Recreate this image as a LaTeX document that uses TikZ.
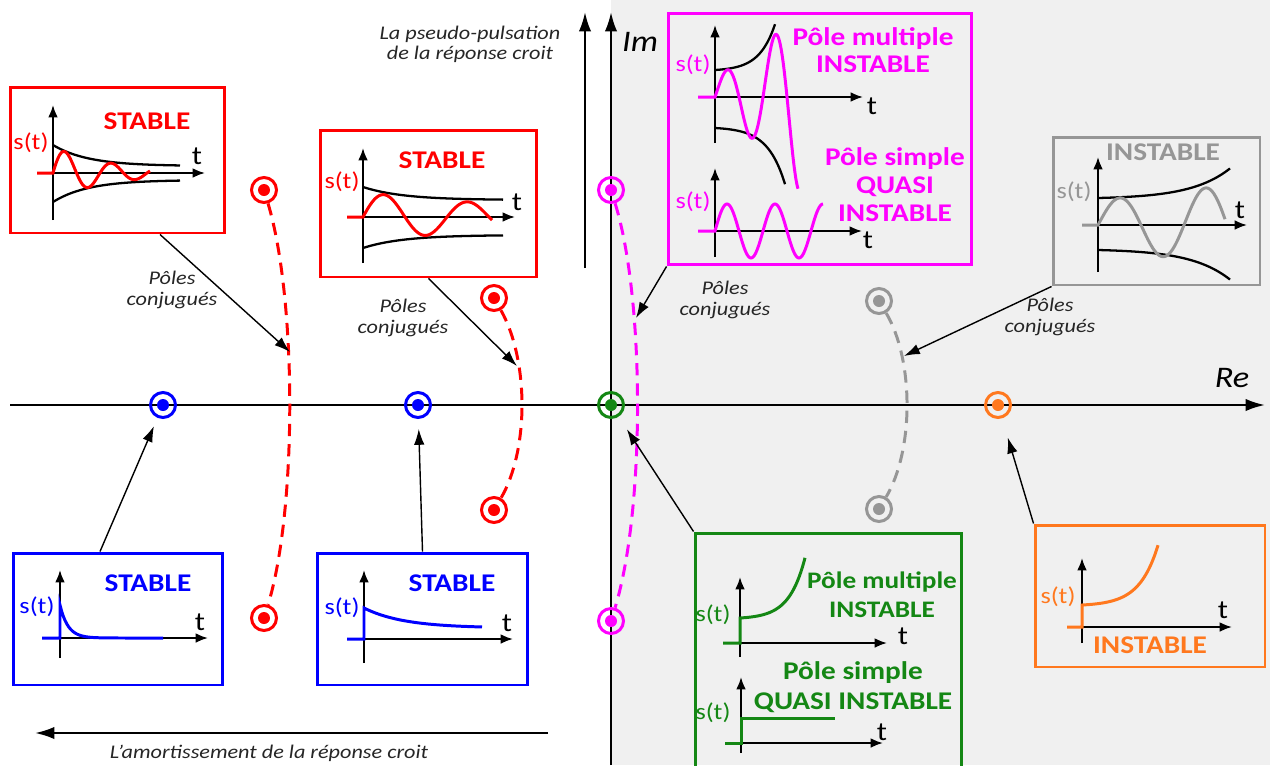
\documentclass[tikz,border=0pt]{standalone}
\usepackage{fontspec}
\setmainfont{Carlito}
\usetikzlibrary{arrows.meta,calc}
\definecolor{cred}{RGB}{255,0,0}
\definecolor{cblue}{RGB}{0,0,255}
\definecolor{cmag}{RGB}{255,0,255}
\definecolor{cgreen}{RGB}{20,135,20}
\definecolor{corange}{RGB}{255,120,30}
\definecolor{cgray}{RGB}{150,150,150}
\definecolor{bggray}{RGB}{240,240,240}
\newcommand{\sx}[1]{\scalebox{1.15}[1]{#1}}
\begin{document}
\begin{tikzpicture}[x=0.02cm, y=-0.02cm,
  box/.style={draw=#1, line width=1.7pt, inner sep=0pt},
  pole/.style={circle, draw=#1, line width=1.7pt, minimum size=0.5cm, inner sep=0pt,
    path picture={\fill[#1] (path picture bounding box.center) circle (0.12cm);}},
  ax/.style={line width=1.1pt, -{Latex[length=7pt,width=5.5pt]}},
  mainax/.style={line width=1.3pt, -{Latex[length=11pt,width=7pt]}},
  sig/.style={line width=1.7pt, color=#1},
  env/.style={line width=1.3pt},
  ttl/.style={font=\fontsize{14.5}{15.5}\selectfont\bfseries, text=#1, align=center, inner sep=0pt},
  st/.style={font=\fontsize{13}{14}\selectfont, text=#1, inner sep=0pt},
  tl/.style={font=\fontsize{15}{16}\selectfont, inner sep=0pt},
  lab/.style={font=\fontsize{11}{11.5}\selectfont\itshape, align=center, inner sep=0pt, text=black!85},
  conn/.style={line width=0.8pt, -{Latex[length=9pt,width=6pt]}},
  dsh/.style={line width=1.7pt, dash pattern=on 7pt off 4.5pt, color=#1}]
\clip (0,0) rectangle (1270,765);
\fill[white] (0,0) rectangle (1270,765);
\fill[bggray] (611,0) rectangle (1270,765);

% main axes
\coordinate (reS) at (10,405); \coordinate (reE) at (1265,405);
\coordinate (imS) at (611,765); \coordinate (imE) at (611,12);
\coordinate (psS) at (585,268); \coordinate (psE) at (585,12);
\coordinate (amS) at (548,733); \coordinate (amE) at (35,733);
\draw[mainax] (reS) -- (reE);
\draw[mainax] (imS) -- (imE);
\draw[mainax] (psS) -- (psE);
\draw[mainax] (amS) -- (amE);
\node[font=\fontsize{17}{18}\selectfont\itshape, inner sep=0pt] (re) at (1232,378) {\sx{Re}};
\node[font=\fontsize{17}{18}\selectfont\itshape, inner sep=0pt] (im) at (640,42) {\sx{Im}};
\node[lab] (pslab) at (470,44) {\sx{La pseudo-pulsation}\\\sx{de la réponse croit}};
\node[lab] (amlab) at (269,753) {\sx{L’amortissement de la réponse croit}};

% boxes
\node[box=cred, minimum width=4.30cm, minimum height=2.92cm] (rb1) at (117.5,160) {};
\node[box=cred, minimum width=4.34cm, minimum height=2.94cm] (rb2) at (428.5,203.5) {};
\node[box=cmag, minimum width=6.08cm, minimum height=5.04cm] (mb) at (820,139) {};
\node[box=cgray, minimum width=4.14cm, minimum height=2.96cm] (gb) at (1156.5,211) {};
\node[box=cblue, minimum width=4.20cm, minimum height=2.64cm] (bb1) at (118,619) {};
\node[box=cblue, minimum width=4.22cm, minimum height=2.64cm] (bb2) at (422.5,619) {};
\node[box=cgreen, minimum width=5.34cm, minimum height=4.84cm] (gnb) at (828.5,654) {};
\node[box=corange, minimum width=4.60cm, minimum height=2.84cm] (ob) at (1150,596) {};

% red box 1
\draw[ax] (53,220) -- (53,105);
\draw[ax] (53,173) -- (205,173);
\draw[env] plot[domain=0:127, samples=40, smooth] ({53+\x}, {166-21*exp(-\x/35)});
\draw[env] plot[domain=0:127, samples=40, smooth] ({53+\x}, {180+22*exp(-\x/35)});
\draw[sig=cred] (37,173) -- (53,173) -- plot[domain=0:97, samples=80, smooth] ({53+\x}, {173-26*exp(-\x/60)*sin((\x/47)*360)});
\node[ttl=cred] (rb1t) at (147,121) {\sx{STABLE}};
\node[st=cred] (rb1s) at (31,143) {\sx{s(t)}};
\node[tl] (rb1x) at (197,156) {\sx{t}};

% red box 2
\draw[ax] (363,263) -- (363,148);
\draw[ax] (363,217) -- (515,217);
\draw[env] plot[domain=0:140, samples=40, smooth] ({363+\x}, {200-13*exp(-\x/40)});
\draw[env] plot[domain=0:140, samples=40, smooth] ({363+\x}, {235+13*exp(-\x/40)});
\draw[sig=cred] (347,217) -- (363,217) -- plot[domain=0:129, samples=90, smooth] ({363+\x}, {217-24.6*exp(-\x/216)*sin((\x/84)*360)});
\node[ttl=cred] (rb2t) at (442,160) {\sx{STABLE}};
\node[st=cred] (rb2s) at (342,182) {\sx{s(t)}};
\node[tl] (rb2x) at (517,202) {\sx{t}};

% magenta box
\draw[ax] (715,143) -- (715,25);
\draw[ax] (715,97) -- (863,97);
\draw[env] plot[domain=0:60, samples=40, smooth] ({715+\x}, {70-(exp(\x/15.6)-1)});
\draw[env] plot[domain=0:70, samples=40, smooth] ({715+\x}, {127+exp(\x/17.3)});
\draw[sig=cmag] (698,97) -- (715,97) -- plot[domain=0:83, samples=100, smooth] ({715+\x}, {97-21.9*exp(\x/57.6)*sin((\x/48)*360)});
\node[st=cmag] (mbs1) at (693,65) {\sx{s(t)}};
\node[tl] (mbx1) at (872,106) {\sx{t}};
\node[ttl=cmag] (mbt1) at (873,50) {\sx{Pôle multiple}\\\sx{INSTABLE}};
\draw[ax] (715,257) -- (715,168);
\draw[ax] (715,231) -- (862,231);
\draw[sig=cmag] (698,231) -- (715,231) -- plot[domain=0:108, samples=100, smooth] ({715+\x}, {231-27*sin((\x/48)*360)});
\node[st=cmag] (mbs2) at (693,202) {\sx{s(t)}};
\node[tl] (mbx2) at (868,240) {\sx{t}};
\node[ttl=cmag, font=\fontsize{14.5}{16}\selectfont\bfseries] (mbt2) at (895,185) {\sx{Pôle simple}\\\sx{QUASI}\\\sx{INSTABLE}};

% gray box
\draw[ax] (1098,272) -- (1098,157);
\draw[ax] (1098,225) -- (1247,225);
\draw[env] plot[domain=0:132, samples=40, smooth] ({1098+\x}, {199-exp(\x/38.6)});
\draw[env] plot[domain=0:132, samples=40, smooth] ({1098+\x}, {249+exp(\x/38.6)});
\draw[sig=cgray] (1082,225) -- (1098,225) -- plot[domain=0:127, samples=90, smooth] ({1098+\x}, {225-25*exp(\x/273)*sin((\x/86)*360)});
\node[ttl=cgray] (gbt) at (1163,152) {\sx{INSTABLE}};
\node[st=cgray] (gbs) at (1074,192) {\sx{s(t)}};
\node[tl] (gbx) at (1240,210) {\sx{t}};

% blue box 1
\draw[ax] (60,658) -- (60,570);
\draw[ax] (60,638) -- (208,638);
\draw[sig=cblue] (42,638) -- (60,638) -- (60,605) -- plot[domain=0:103, samples=60, smooth] ({60+\x}, {638-33*exp(-\x/8)});
\node[ttl=cblue] (bb1t) at (148,583) {\sx{STABLE}};
\node[st=cblue] (bb1s) at (37,607) {\sx{s(t)}};
\node[tl] (bb1x) at (200,622) {\sx{t}};

% blue box 2
\draw[ax] (364,663) -- (364,570);
\draw[ax] (364,639) -- (513,639);
\draw[sig=cblue] (347,639) -- (364,639) -- (364,608) -- plot[domain=0:118, samples=60, smooth] ({364+\x}, {628-20*exp(-\x/40)});
\node[ttl=cblue] (bb2t) at (452,583) {\sx{STABLE}};
\node[st=cblue] (bb2s) at (342,608) {\sx{s(t)}};
\node[tl] (bb2x) at (507,623) {\sx{t}};

% green box
\draw[ax] (740,657) -- (740,577);
\draw[ax] (740,643) -- (887,643);
\draw[sig=cgreen] (723,643) -- (740,643) -- (740,618) -- plot[domain=0:65, samples=60, smooth] ({740+\x}, {619-exp(\x/15.8)});
\node[st=cgreen] (gns1) at (713,615) {\sx{s(t)}};
\node[tl] (gnx1) at (903,636) {\sx{t}};
\node[ttl=cgreen, font=\fontsize{13.5}{16.4}\selectfont\bfseries] (gnt1) at (882,595) {\sx{Pôle multiple}\\\sx{INSTABLE}};
\draw[ax] (741,753) -- (741,677);
\draw[ax] (741,743) -- (883,743);
\draw[sig=cgreen] (725,743) -- (741,743) -- (741,718) -- (835,718);
\node[st=cgreen] (gns2) at (713,713) {\sx{s(t)}};
\node[tl] (gnx2) at (882,732) {\sx{t}};
\node[ttl=cgreen, font=\fontsize{14.5}{17}\selectfont\bfseries] (gnt2) at (853,687) {\sx{Pôle simple}\\\sx{QUASI INSTABLE}};

% orange box
\draw[ax] (1082,643) -- (1082,558);
\draw[ax] (1082,627) -- (1232,627);
\draw[sig=corange] (1067,627) -- (1082,627) -- (1082,605) -- plot[domain=0:76, samples=60, smooth] ({1082+\x}, {606-exp(\x/18.5)});
\node[ttl=corange] (obt) at (1150,645) {\sx{INSTABLE}};
\node[st=corange] (obs) at (1058,597) {\sx{s(t)}};
\node[tl] (obx) at (1223,610) {\sx{t}};

% poles
\node[pole=cred] (pr1) at (264,190) {};
\node[pole=cred] (pr2) at (264,618) {};
\node[pole=cred] (pr3) at (494,298) {};
\node[pole=cred] (pr4) at (494,510) {};
\node[pole=cmag] (pm1) at (611,190) {};
\node[pole=cmag] (pm2) at (611,621) {};
\node[pole=cgray] (pg1) at (879,301) {};
\node[pole=cgray] (pg2) at (879,509) {};
\node[pole=cblue] (bp1) at (163,405) {};
\node[pole=cblue] (bp2) at (418,405) {};
\node[pole=cgreen] (gp) at (611,405) {};
\node[pole=corange] (op) at (998,405) {};

% dashed loci
\draw[dsh=cred] (pr1) .. controls (297,300) and (297,510) .. (pr2);
\draw[dsh=cred] (pr3) .. controls (529,360) and (529,450) .. (pr4);
\draw[dsh=cmag] (pm1) .. controls (645,300) and (645,510) .. (pm2);
\draw[dsh=cgray] (pg1) .. controls (914,360) and (914,450) .. (pg2);

% connectors
\coordinate (c1) at (290,352);
\coordinate (c2) at (517,366);
\coordinate (c3) at (636,318);
\coordinate (c4) at (904,356);
\draw[conn] ($(rb1.south)+(42.5,0)$) -- (c1);
\draw[conn] (rb2.south) -- (c2);
\draw[conn] (mb.south west) -- (c3);
\draw[conn] (gb.south west) -- (c4);
\draw[conn, shorten >=0.18cm] ($(bb1.north)+(-18,0)$) -- (bp1);
\draw[conn, shorten >=0.2cm] (bb2.north) -- (bp2);
\draw[conn, shorten >=0.3cm] (gnb.north west) -- (gp);
\draw[conn, shorten >=0.4cm] (ob.north west) -- (op);

\node[lab] (l1) at (172,290) {\sx{Pôles}\\\sx{conjugués}};
\node[lab] (l2) at (403,318) {\sx{Pôles}\\\sx{conjugués}};
\node[lab] (l3) at (725,300) {\sx{Pôles}\\\sx{conjugués}};
\node[lab] (l4) at (1050,317) {\sx{Pôles}\\\sx{conjugués}};
\end{tikzpicture}
\end{document}
